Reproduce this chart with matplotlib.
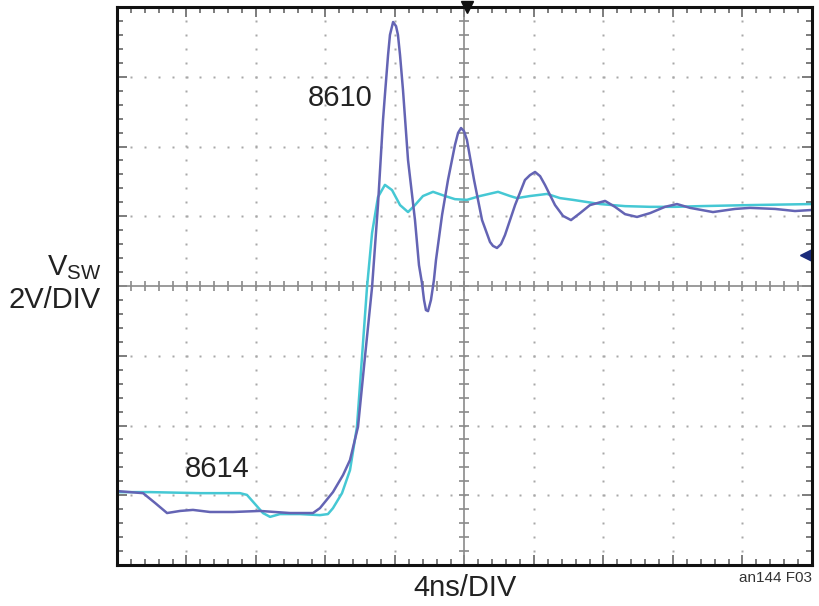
import numpy as np
import matplotlib.pyplot as plt

# scope settings: 4ns/div, 2V/div, 10 x 8 divisions
T_DIV = 4.0
V_DIV = 2.0

# 8610 trace (ns, V)
t_8610 = [-20.0, -18.50, -17.81, -17.12, -16.37, -15.63, -14.65, -13.32, -11.77, -10.04,
          -8.72, -8.32, -7.57, -6.99, -6.59, -6.13, -5.73, -5.32, -4.98, -4.69,
          -4.58, -4.40, -4.29, -4.11, -3.94, -3.83, -3.71, -3.54, -3.25, -2.85,
          -2.62, -2.45, -2.33, -2.22, -2.10, -1.93, -1.76, -1.64,
          -1.29, -0.95, -0.55, -0.37, -0.20, -0.03, 0.14, 0.55, 1.01, 1.47, 1.64, 1.87, 2.10, 2.33,
          2.91, 3.48, 3.77, 4.06, 4.35, 4.63, 5.21, 5.67, 6.13, 6.65, 7.22, 8.09,
          8.66, 9.24, 9.93, 10.68, 11.54, 12.23, 12.98, 14.30, 15.57, 16.43,
          17.87, 19.02, 20.0]
v_8610 = [-5.88, -5.94, -6.22, -6.51, -6.45, -6.42, -6.48, -6.48, -6.45, -6.51,
          -6.51, -6.37, -5.91, -5.42, -4.99, -4.04, -2.04, -0.03, 2.32, 4.76,
          5.48, 6.62, 7.20, 7.57, 7.45, 7.20, 6.62, 5.62, 3.61, 1.89,
          0.60, 0.09, -0.40, -0.69, -0.72, -0.40, 0.17, 0.75,
          2.04, 3.04, 4.04, 4.39, 4.53, 4.44, 4.19, 3.04, 1.89, 1.26, 1.15, 1.09, 1.20, 1.46,
          2.32, 3.04, 3.18, 3.27, 3.15, 2.90, 2.32, 2.01, 1.89, 2.09, 2.32, 2.44,
          2.27, 2.06, 1.98, 2.09, 2.27, 2.35, 2.24, 2.12, 2.21, 2.24,
          2.21, 2.15, 2.18]

# 8614 trace (ns, V)
t_8614 = [-20.0, -18.10, -15.22, -12.92, -12.52, -12.06, -11.60, -11.19, -10.62, -9.47,
          -8.32, -7.86, -7.57, -7.05, -6.59, -6.19, -5.90, -5.61, -5.32, -4.98,
          -4.58, -4.17, -3.71, -3.25, -2.85, -2.39, -1.81, -1.12, -0.55, 0.14,
          0.89, 1.93, 2.62, 3.02, 3.77, 4.75, 5.50, 6.24, 7.80, 9.24,
          10.68, 12.11, 13.55, 16.43, 20.0]
v_8614 = [-5.91, -5.91, -5.94, -5.94, -5.99, -6.25, -6.51, -6.62, -6.54, -6.54,
          -6.57, -6.54, -6.37, -5.94, -5.28, -4.04, -2.04, -0.03, 1.52, 2.55,
          2.90, 2.75, 2.32, 2.12, 2.32, 2.58, 2.70, 2.58, 2.49, 2.47,
          2.58, 2.70, 2.58, 2.52, 2.58, 2.64, 2.52, 2.47, 2.35, 2.29,
          2.27, 2.27, 2.29, 2.32, 2.35]

trig_t = 0.14     # trigger position marker
ref_level = 0.89  # channel reference marker

plt.rcParams['font.family'] = ['Liberation Sans', 'DejaVu Sans']
plt.rcParams['mathtext.fontset'] = 'custom'
plt.rcParams['mathtext.rm'] = 'Liberation Sans'

W, H = 820, 606
fig = plt.figure(figsize=(W / 100, H / 100), dpi=100)
ax = fig.add_axes([117 / W, 41 / H, 695 / W, 558 / H])

tmin, tmax = -5 * T_DIV, 5 * T_DIV
vmin, vmax = -4 * V_DIV, 4 * V_DIV
ax.set_xlim(tmin, tmax)
ax.set_ylim(vmin, vmax)

# dotted graticule
grid_col = '#a8a8a8'
t_minor = np.arange(tmin, tmax + 1e-9, T_DIV / 5)
v_minor = np.arange(vmin, vmax + 1e-9, V_DIV / 5)
for tm in np.arange(tmin + T_DIV, tmax, T_DIV):
    if abs(tm) < 1e-9:
        continue
    ax.plot(np.full_like(v_minor, tm), v_minor, 's', ms=1.6, color=grid_col, mec='none')
for vm in np.arange(vmin + V_DIV, vmax, V_DIV):
    if abs(vm) < 1e-9:
        continue
    ax.plot(t_minor, np.full_like(t_minor, vm), 's', ms=1.6, color=grid_col, mec='none')

# centre crosshair with ticks
ax.axhline(0, color='#8a8a8a', lw=1.2)
ax.axvline(0, color='#8a8a8a', lw=1.2)
ax.plot(t_minor, np.zeros_like(t_minor), '|', ms=7, mew=1.2, color='#8a8a8a')
ax.plot(np.zeros_like(v_minor), v_minor, '_', ms=7, mew=1.2, color='#8a8a8a')

# traces
ax.plot(t_8614, v_8614, color='#45c8d4', lw=1.8, solid_joinstyle='round')
ax.plot(t_8610, v_8610, color='#6464b4', lw=1.8, solid_joinstyle='round')

# markers
ax.plot([trig_t], [vmax], 'v', ms=9, color='#111111', clip_on=False)
ax.plot([tmax - 0.35], [ref_level], '<', ms=8, color='#1a2a7a', clip_on=False)

# frame ticks
ax.set_xticks(np.arange(tmin, tmax + 1e-9, T_DIV))
ax.set_yticks(np.arange(vmin, vmax + 1e-9, V_DIV))
ax.set_xticks(t_minor, minor=True)
ax.set_yticks(v_minor, minor=True)
ax.tick_params(which='both', direction='in', top=True, right=True,
               labelbottom=False, labelleft=False, color='#666666')
ax.tick_params(which='major', length=7, width=1.2)
ax.tick_params(which='minor', length=4, width=1.2)
for s in ax.spines.values():
    s.set_linewidth(2.2)
    s.set_color('#111111')

# labels
def fx(px):
    return px / W

def fy(py):
    return 1 - py / H

fig.text(fx(340), fy(98), '8610', fontsize=21, ha='center', va='center', color='#222222')
fig.text(fx(217), fy(469), '8614', fontsize=21, ha='center', va='center', color='#222222')
fig.text(fx(101), fy(268), r'V$_{\mathrm{SW}}$', fontsize=21, ha='right', va='center', color='#222222')
fig.text(fx(101), fy(300), '2V/DIV', fontsize=21, ha='right', va='center', color='#222222')
fig.text(fx(465), fy(588), '4ns/DIV', fontsize=21, ha='center', va='center', color='#222222')
fig.text(fx(812), fy(578), 'an144 F03', fontsize=11, ha='right', va='center', color='#333333')

fig.savefig('out.png', dpi=100)
